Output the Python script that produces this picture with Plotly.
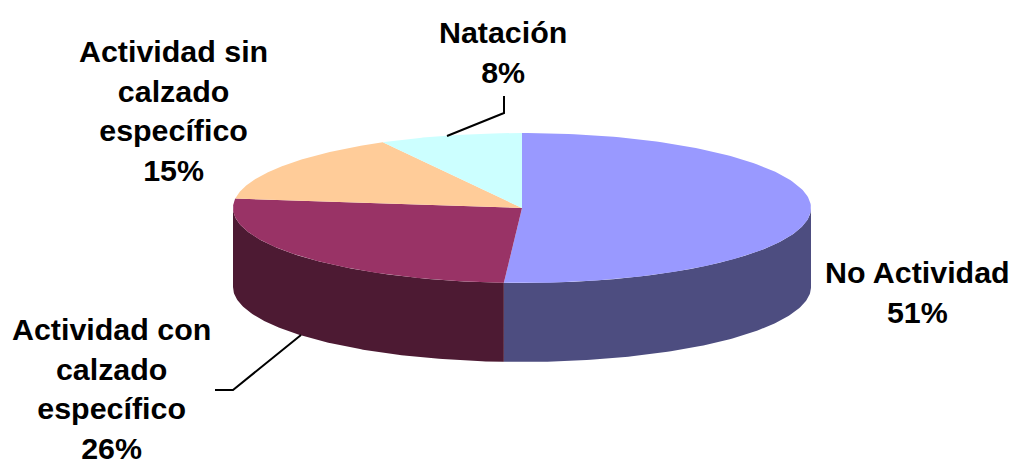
import numpy as np
import plotly.graph_objects as go

labels = ["No Actividad", "Actividad con<br>calzado<br>específico", "Actividad sin<br>calzado<br>específico", "Natación"]
values = [51, 26, 15, 8]
top_colors = ["#9999FF", "#993366", "#FFCC99", "#CCFFFF"]
side_colors = ["#4D4D80", "#4D1A33", "#806633", "#668080"]
label_pos = [(917.5, 291.5), (111, 388.5), (173, 110), (503, 51.5)]

W, H = 1012, 459
CX, CY, RX, RY, DEPTH = 522, 208, 289, 75, 79
leaders = [([504, 504, 447], [96, 113, 136]), ([215, 233, 301], [390, 390, 335])]


def ell(a_deg):
    a = np.radians(a_deg)
    return CX + RX * np.sin(a), CY - RY * np.cos(a)


fig = go.Figure()
total = sum(values)
edges = np.concatenate([[0], np.cumsum(values) / total * 360])

# Side walls: only the front half of the rim (90°..270°) is visible
for i in range(len(values)):
    a0, a1 = max(edges[i], 90), min(edges[i + 1], 270)
    if a1 <= a0:
        continue
    t = np.linspace(a0, a1, 120)
    x, y = ell(t)
    fig.add_trace(go.Scatter(
        x=np.concatenate([x, x[::-1]]),
        y=np.concatenate([y, y[::-1] + DEPTH]),
        mode="lines", fill="toself", fillcolor=side_colors[i],
        line=dict(width=0), hoverinfo="skip", showlegend=False))

# Top face
for i in range(len(values)):
    t = np.linspace(edges[i], edges[i + 1], 160)
    x, y = ell(t)
    fig.add_trace(go.Scatter(
        x=np.concatenate([[CX], x, [CX]]),
        y=np.concatenate([[CY], y, [CY]]),
        mode="lines", fill="toself", fillcolor=top_colors[i],
        line=dict(width=0), hoverinfo="skip", showlegend=False))

for lx, ly in leaders:
    fig.add_trace(go.Scatter(x=lx, y=ly, mode="lines",
                             line=dict(color="black", width=2),
                             hoverinfo="skip", showlegend=False))

for name, v, (px, py) in zip(labels, values, label_pos):
    fig.add_annotation(x=px, y=py, xref="x", yref="y", text=f"<b>{name}<br>{v}%</b>",
                       showarrow=False, align="center", xanchor="center", yanchor="middle",
                       font=dict(family="Liberation Sans", size=30.4, color="black"))

fig.update_layout(
    width=W, height=H, margin=dict(l=0, r=0, t=0, b=0),
    paper_bgcolor="white", plot_bgcolor="white", showlegend=False,
    xaxis=dict(range=[0, W], visible=False, fixedrange=True),
    yaxis=dict(range=[H, 0], visible=False, fixedrange=True))
fig.write_html("out.html", config={"displayModeBar": False},
               post_script="document.body.style.margin='0';document.body.style.overflow='hidden';")
